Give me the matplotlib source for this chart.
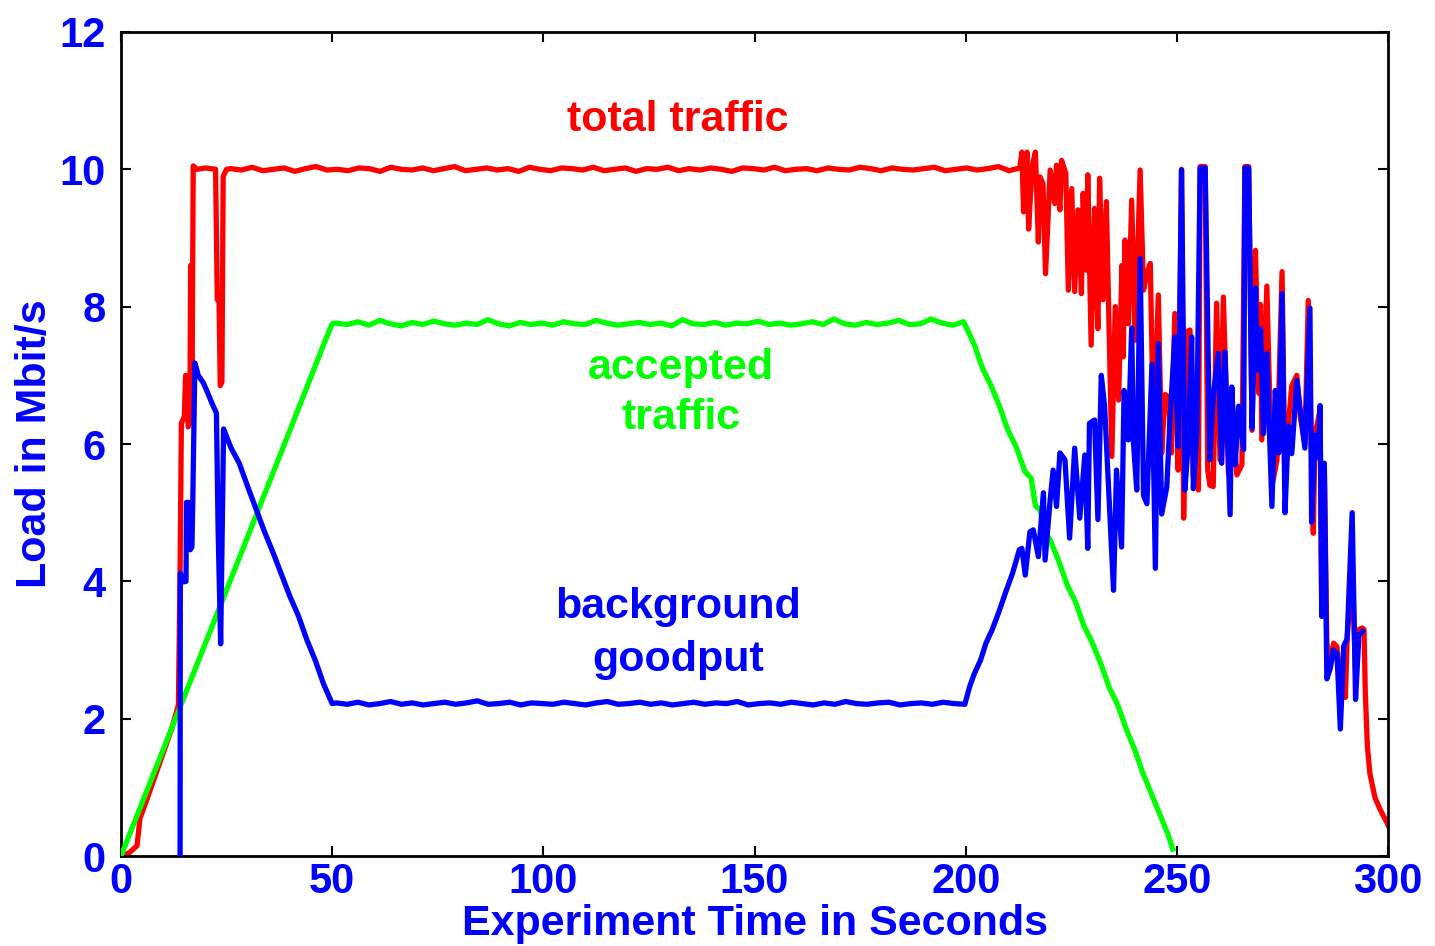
import numpy as np
import matplotlib
matplotlib.use('Agg')
import matplotlib.pyplot as plt

# ---- data ----
# total traffic (red)
red_start_t = [0, 2, 3.8, 4.5, 6, 8, 10, 12, 13.6, 14.0, 14.3, 15.0, 15.3, 15.6, 15.9, 16.3,
               16.5, 16.8, 17.1, 18, 20, 22.4, 22.8, 23.2, 23.5, 23.9, 24.2, 25]
red_start_y = [0, 0.05, 0.15, 0.55, 0.8, 1.15, 1.5, 1.85, 2.2, 4.2, 6.3, 6.4, 7.0, 6.9, 6.25, 6.3,
               8.6, 6.4, 10.05, 10.0, 10.02, 10.0, 8.1, 8.2, 6.85, 6.9, 9.9, 10.0]
red_flat = [10.01, 9.99, 10.03, 9.98, 10.00, 10.02, 9.97, 10.01, 10.04, 9.99, 10.00, 9.98, 10.02,
            10.01, 9.97, 10.03, 10.00, 9.99, 10.02, 9.98, 10.01, 10.04, 9.98, 10.00, 10.02, 9.99,
            10.01, 9.97, 10.03, 10.00, 9.98, 10.02, 10.01, 9.99, 10.03, 9.98, 10.00, 10.02, 9.97,
            10.01, 10.00, 10.03, 9.98, 10.01, 9.99, 10.02, 10.00, 9.97, 10.02, 10.01, 9.99, 10.03,
            9.98, 10.00, 10.01, 9.98, 10.02, 10.00, 9.99, 10.03, 10.01, 9.98, 10.02, 10.00, 9.99,
            10.01, 10.03, 9.98, 10.00, 10.02, 9.99, 10.01, 10.04, 9.98, 10.02]
red_flat_span = (26, 212.8)
red_end_t = [213.3, 213.7, 214.5, 214.9, 215.7, 216.5, 217.2, 217.6, 218.3, 218.9, 220.0, 221.1,
             221.5, 222.3, 222.7, 223.7, 224.3, 225.1, 225.8, 226.6, 227.4, 227.8, 228.6, 228.9,
             229.7, 230.5, 231.3, 231.7, 232.5, 233.3, 234.6, 235.4, 236.2, 237.0, 237.3, 237.7,
             238.5, 239.3, 240.1, 241.3, 242.1, 242.9, 243.7, 244.5, 245.6, 246.4, 247.2, 248.0,
             248.7, 249.5, 250.3, 251.1, 251.6, 252.4, 253.1, 253.9, 254.7, 255.1, 255.5, 256.7,
             257.3, 257.8, 258.6, 259.4, 260.2, 261.0, 262.2, 263.0, 264.2, 265.4, 266.1, 267.0,
             267.8, 268.6, 269.4, 269.8, 270.1, 271.3, 272.5, 273.7, 274.9, 275.6, 276.4, 277.2,
             278.4, 279.2, 280.3, 281.1, 282.3, 282.7, 283.9, 284.3, 284.9, 285.5, 286.3, 287.1,
             287.9, 288.7, 289.5, 289.9, 290.3, 291.5, 292.3, 293.1, 293.9, 294.3, 294.6, 295.1,
             295.7, 296.9, 298.1, 299.7, 300]
red_end_y = [10.25, 9.38, 10.25, 9.13, 10.04, 10.25, 8.94, 9.89, 9.79, 8.48, 9.99, 9.5,
             10.06, 9.41, 10.13, 9.94, 8.24, 9.72, 8.22, 9.41, 8.19, 9.65, 8.53, 9.92,
             7.44, 9.43, 7.68, 9.87, 8.1, 9.53, 5.82, 8.0, 6.64, 8.6, 7.27, 8.97,
             7.75, 9.55, 7.51, 9.99, 8.24, 8.48, 8.63, 6.06, 8.17, 5.87, 6.72, 6.69,
             5.87, 7.9, 5.62, 10.0, 4.92, 7.64, 7.66, 5.52, 6.72, 5.33, 10.04, 10.04,
             5.62, 5.4, 5.38, 8.05, 5.77, 8.14, 5.57, 6.55, 5.55, 5.7, 10.04, 10.04,
             6.2, 8.82, 6.74, 8.03, 6.06, 8.3, 5.38, 5.77, 8.51, 5.3, 6.3, 6.85,
             7.0, 6.4, 6.0, 8.09, 4.7, 6.13, 6.5, 3.5, 5.7, 3.1, 2.8, 3.1,
             3.05, 2.3, 3.0, 2.31, 3.16, 4.2, 2.68, 3.3, 3.32, 3.3, 2.4, 1.6,
             1.2, 0.85, 0.68, 0.49, 0.45]

# accepted traffic (green)
green_start_t = [0, 10, 20, 30, 40, 48, 50]
green_start_y = [0, 1.55, 3.1, 4.65, 6.2, 7.45, 7.75]
green_flat = [7.76, 7.74, 7.78, 7.73, 7.80, 7.75, 7.72, 7.77, 7.74, 7.79, 7.75, 7.73, 7.76,
              7.74, 7.81, 7.75, 7.72, 7.77, 7.74, 7.76, 7.73, 7.78, 7.75, 7.74, 7.80, 7.76,
              7.73, 7.75, 7.77, 7.74, 7.76, 7.72, 7.81, 7.75, 7.74, 7.77, 7.73, 7.76, 7.75,
              7.79, 7.74, 7.76, 7.73, 7.75, 7.78, 7.74, 7.82, 7.75, 7.73, 7.77, 7.74, 7.76,
              7.80, 7.74, 7.75, 7.82, 7.76, 7.73, 7.78]
green_flat_span = (51, 199.5)
green_end_t = [200.5, 202, 204, 206, 208, 210, 212, 214, 215.5, 216.5, 217.6, 219, 220, 222,
               224, 226, 228, 230, 232, 234, 236, 238, 240, 242, 244, 246, 248, 249]
green_end_y = [7.65, 7.45, 7.1, 6.85, 6.55, 6.2, 5.95, 5.6, 5.5, 5.1, 5.04, 4.7, 4.6, 4.3,
               3.95, 3.7, 3.35, 3.1, 2.8, 2.45, 2.2, 1.85, 1.55, 1.2, 0.9, 0.6, 0.3, 0.1]

# background goodput (blue)
blue_start_t = [14.0, 14.05, 14.6, 15.4, 15.5, 16.0, 16.4, 16.8, 17.0, 17.5, 18.3, 19.5, 20.5,
                21.5, 22.6, 23.0, 23.6, 24.3, 26, 28, 30, 32, 34, 36, 38, 40, 42, 44, 46, 48, 50]
blue_start_y = [0, 4.12, 3.99, 4.0, 5.15, 5.15, 4.46, 4.5, 5.15, 7.18, 7.0, 6.89, 6.75,
                6.6, 6.45, 4.75, 3.09, 6.22, 5.95, 5.72, 5.38, 5.05, 4.72, 4.42, 4.1, 3.78,
                3.5, 3.15, 2.85, 2.5, 2.22]
blue_flat = [2.23, 2.21, 2.24, 2.20, 2.22, 2.25, 2.21, 2.23, 2.20, 2.22, 2.24, 2.21, 2.23,
             2.26, 2.21, 2.22, 2.24, 2.20, 2.23, 2.22, 2.21, 2.24, 2.22, 2.20, 2.23, 2.25,
             2.21, 2.22, 2.24, 2.21, 2.23, 2.20, 2.22, 2.24, 2.21, 2.23, 2.22, 2.25, 2.20,
             2.22, 2.23, 2.21, 2.24, 2.22, 2.20, 2.23, 2.21, 2.25, 2.22, 2.21, 2.23, 2.24,
             2.20, 2.22, 2.23, 2.21, 2.24, 2.22, 2.21]
blue_flat_span = (51, 199.8)
blue_end_t = [200.9, 202, 203.5, 204.8, 206.3, 208, 209.5, 211.1, 212.7, 213.3, 214.1, 215.2,
              216.0, 217.2, 218.4, 218.8, 220.0, 220.7, 221.5, 222.3, 223.5, 224.6, 225.8,
              227.0, 228.2, 228.9, 229.3, 230.5, 231.3, 232.1, 232.9, 233.7, 235.0, 235.7,
              236.9, 237.5, 238.5, 239.3, 239.7, 240.5, 241.3, 242.1, 242.9, 244.1, 244.9,
              245.6, 246.4, 247.6, 248.4, 249.5, 250.3, 251.1, 251.9, 252.7, 253.5, 253.9,
              254.7, 255.5, 256.7, 257.8, 258.6, 259.8, 260.6, 261.4, 262.6, 263.0, 263.8,
              264.6, 265.8, 266.1, 267.0, 267.8, 268.6, 269.0, 269.8, 270.5, 271.3, 272.5,
              273.3, 274.1, 274.9, 275.6, 276.4, 277.2, 278.4, 279.2, 280.3, 281.5, 281.9,
              282.7, 283.5, 283.9, 284.3, 284.9, 285.5, 286.3, 287.1, 287.9, 288.7, 289.5,
              290.3, 291.5, 292.3, 293.1, 293.9]
blue_end_y = [2.46, 2.65, 2.85, 3.1, 3.3, 3.58, 3.85, 4.12, 4.46, 4.48, 4.09, 4.72,
              4.75, 4.36, 5.29, 4.31, 5.19, 5.62, 5.09, 5.87, 5.77, 4.63, 5.94,
              4.92, 5.84, 4.48, 6.3, 6.35, 4.9, 7.0, 6.54, 5.52, 3.87, 5.62,
              4.5, 6.78, 6.06, 7.69, 6.03, 5.33, 8.7, 5.25, 5.13, 7.16, 4.19,
              7.46, 4.98, 5.37, 6.39, 7.56, 5.96, 9.99, 5.33, 6.01, 7.56, 5.35,
              6.15, 10.02, 10.02, 5.77, 6.69, 7.32, 5.72, 7.34, 4.97, 6.83, 5.70,
              6.55, 5.92, 10.02, 10.02, 6.23, 8.27, 7.07, 7.68, 6.15, 7.32, 5.09,
              6.78, 5.87, 8.19, 5.0, 6.26, 5.86, 6.93, 6.5, 5.94, 7.98, 4.86,
              6.13, 5.8, 6.56, 3.49, 5.72, 2.58, 2.73, 3.0, 2.95, 1.85, 3.06,
              3.16, 5.0, 2.28, 3.22, 3.27]


def join_series(start_t, start_y, flat, span, end_t, end_y):
    # glue the typed pieces of one curve together
    flat_t = np.linspace(span[0], span[1], len(flat))
    t = np.concatenate([start_t, flat_t, end_t])
    y = np.concatenate([start_y, flat, end_y])
    return t, y


red_t, red_y = join_series(red_start_t, red_start_y, red_flat, red_flat_span, red_end_t, red_end_y)
green_t, green_y = join_series(green_start_t, green_start_y, green_flat, green_flat_span,
                               green_end_t, green_end_y)
blue_t, blue_y = join_series(blue_start_t, blue_start_y, blue_flat, blue_flat_span,
                             blue_end_t, blue_end_y)

BLUE = '#0000ff'
plt.rcParams['font.family'] = ['Liberation Sans', 'DejaVu Sans']
plt.rcParams['font.weight'] = 'bold'

fig = plt.figure(figsize=(14.35, 9.46), dpi=100)
ax = fig.add_axes([0.0843, 0.0951, 0.8830, 0.8711])

ax.plot(red_t, red_y, color='#ff0000', lw=3.8, zorder=2)
ax.plot(green_t, green_y, color='#00ff00', lw=3.8, zorder=3)
ax.plot(blue_t, blue_y, color=BLUE, lw=3.8, zorder=4)

ax.set_xlim(0, 300)
ax.set_ylim(0, 12)
ax.set_xticks([0, 50, 100, 150, 200, 250, 300])
ax.set_yticks([0, 2, 4, 6, 8, 10, 12])
ax.tick_params(direction='in', length=7, width=1.5, top=True, right=True,
               labelsize=30, labelcolor=BLUE)
ax.tick_params(axis='x', pad=4)
ax.tick_params(axis='y', pad=11)
for s in ax.spines.values():
    s.set_linewidth(2)

ax.set_xlabel('Experiment Time in Seconds', fontsize=31, color=BLUE, fontweight='bold', labelpad=2)
ax.set_ylabel('Load in Mbit/s', fontsize=31, color=BLUE, fontweight='bold', labelpad=3)

ax.text(131.9, 10.72, 'total traffic', color='#ff0000', fontsize=31, fontweight='bold',
        ha='center', va='center')
ax.text(132.6, 6.74, 'accepted\ntraffic', color='#00ff00', fontsize=31, fontweight='bold',
        ha='center', va='center', linespacing=1.34)
ax.text(131.9, 3.24, 'background\ngoodput', color=BLUE, fontsize=31, fontweight='bold',
        ha='center', va='center', linespacing=1.42)

plt.savefig('out.png', dpi=100)
